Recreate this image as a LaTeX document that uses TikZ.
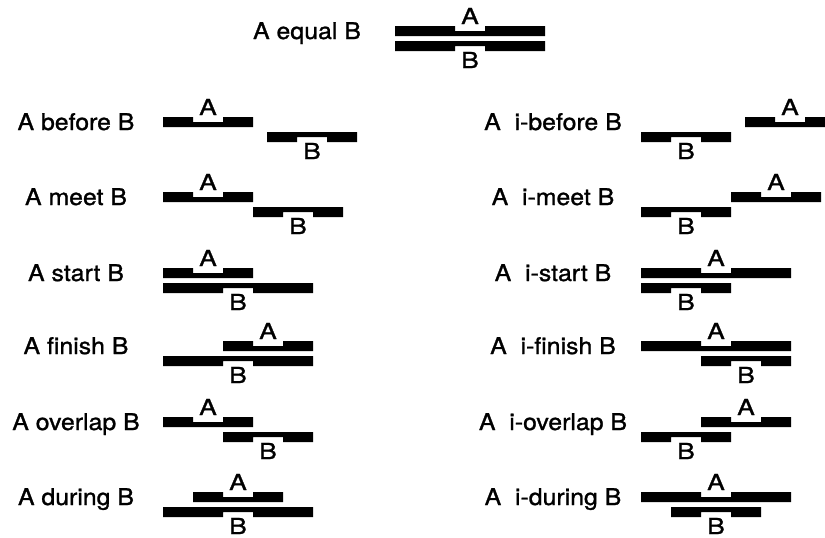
\documentclass[tikz,border=0pt]{standalone}
\usepackage{fontspec}
\setmainfont{TeX Gyre Heros}
\newfontfamily\relfont[FakeStretch=1.08,FakeBold=1.2]{TeX Gyre Heros}
\newfontfamily\endfont[FakeStretch=1.2,FakeBold=1.2]{TeX Gyre Heros}

% interval A: notch on top, label above -- name, left x, right x, top y
\newcommand\barA[4]{%
  \fill (#2,#4) -- (#2,#4+10) -- (#3,#4+10) -- (#3,#4)
    -- ({(#2+#3)/2+15},#4) -- ({(#2+#3)/2+15},#4+5)
    -- ({(#2+#3)/2-15},#4+5) -- ({(#2+#3)/2-15},#4) -- cycle;
  \node[tag] (#1) at ({(#2+#3)/2},#4-2) {A};}
% interval B: notch underneath, label below
\newcommand\barB[4]{%
  \fill (#2,#4) -- (#2,#4+10) -- ({(#2+#3)/2-15},#4+10) -- ({(#2+#3)/2-15},#4+5)
    -- ({(#2+#3)/2+15},#4+5) -- ({(#2+#3)/2+15},#4+10) -- (#3,#4+10) -- (#3,#4) -- cycle;
  \node[tag] (#1) at ({(#2+#3)/2},#4+27) {B};}

\begin{document}
\begin{tikzpicture}[x=1pt,y=-1pt,
  tag/.style={font=\endfont\fontsize{22}{22}\selectfont,inner sep=0pt,anchor=base},
  relation/.style={font=\relfont\fontsize{23}{23}\selectfont,inner sep=0pt,anchor=base}]
  \useasboundingbox (0,0) rectangle (825,538);
  \clip (0,0) rectangle (825,538);

  % equal
  \node[relation] (equal) at (307,39) {A equal B};
  \barA{eqA}{395}{545}{26}
  \barB{eqB}{395}{545}{41}

  % left column
  \node[relation] (before) at (76,130) {A before B};
  \barA{befA}{163}{253}{117}
  \barB{befB}{267}{357}{132}

  \node[relation] (meet) at (76,205) {A meet B};
  \barA{meetA}{163}{253}{192}
  \barB{meetB}{253}{343}{207}

  \node[relation] (start) at (76,281) {A start B};
  \barA{startA}{163}{253}{268}
  \barB{startB}{163}{313}{283}

  \node[relation] (finish) at (76,354) {A finish B};
  \barA{finA}{223}{313}{341}
  \barB{finB}{163}{313}{356}

  \node[relation] (overlap) at (76,430) {A overlap B};
  \barA{ovA}{163}{253}{417}
  \barB{ovB}{223}{313}{432}

  \node[relation] (during) at (76,505) {A during B};
  \barA{durA}{193}{283}{492}
  \barB{durB}{163}{313}{507}

  % right column, the inverse relations
  \node[relation] (ibefore) at (553,130) {A~~i-before B};
  \barA{ibefA}{745}{835}{117}
  \barB{ibefB}{641}{731}{132}

  \node[relation] (imeet) at (553,205) {A~~i-meet B};
  \barA{imeetA}{731}{821}{192}
  \barB{imeetB}{641}{731}{207}

  \node[relation] (istart) at (553,281) {A~~i-start B};
  \barA{istartA}{641}{791}{268}
  \barB{istartB}{641}{731}{283}

  \node[relation] (ifinish) at (553,354) {A~~i-finish B};
  \barA{ifinA}{641}{791}{341}
  \barB{ifinB}{701}{791}{356}

  \node[relation] (ioverlap) at (553,430) {A~~i-overlap B};
  \barA{iovA}{701}{791}{417}
  \barB{iovB}{641}{731}{432}

  \node[relation] (iduring) at (553,505) {A~~i-during B};
  \barA{idurA}{641}{791}{492}
  \barB{idurB}{671}{761}{507}
\end{tikzpicture}
\end{document}
